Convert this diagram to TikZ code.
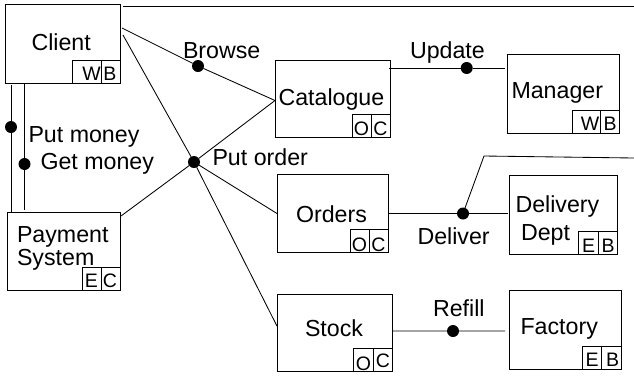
\documentclass[tikz,border=0pt]{standalone}
\usepackage{fontspec}
\setmainfont{Liberation Sans}
\newcommand{\bx}[6][boxframe]{\node[#1,minimum width={(#5)-(#3)},minimum height={(#6)-(#4)}] (#2) at ({((#3)+(#5))/2},{((#4)+(#6))/2}) {};}
\newcommand{\lbl}[4]{\node[lab] (#1) at (#2,#3) {#4};}
\newcommand{\slbl}[4]{\node[smalllab] (#1) at (#2,#3) {#4};}
\tikzset{
 boxframe/.style={draw=black,line width=0.85pt,inner sep=0pt,outer sep=0pt,fill=white},
 cell/.style={boxframe},
 lab/.style={anchor=base west,inner sep=0pt,outer sep=0pt,font=\fontsize{23.2pt}{24pt}\selectfont},
 smalllab/.style={anchor=base,inner sep=0pt,outer sep=0pt,font=\fontsize{19.5pt}{20pt}\selectfont},
 dot/.style={circle,fill=black,draw=none,minimum size=12pt,inner sep=0pt,outer sep=0pt},
 conn/.style={draw=black,line width=0.85pt}
}
\begin{document}
\begin{tikzpicture}[x=1pt,y=-1pt]
\useasboundingbox (0,0) rectangle (634,376);
% boxes
\bx{client}{5}{4.5}{120}{83}
\bx{catalogue}{275}{60.5}{390.5}{137}
\bx{manager}{507.5}{54.5}{619}{133}
\bx{payment}{7}{212}{120}{290.5}
\bx{orders}{277}{174}{388.5}{252}
\bx{delivery}{509.7}{175.5}{617}{254}
\bx{stock}{277}{294.7}{392.5}{371.5}
\bx{factory}{509.3}{290.7}{621}{369.5}
% cells
\bx[cell]{cw}{72.5}{60}{101}{83}
\bx[cell]{cb}{101}{60}{120}{83}
\bx[cell]{co}{352}{114}{371}{137}
\bx[cell]{cc}{371}{114}{390.5}{137}
\bx[cell]{mw}{572.5}{110.5}{600}{133}
\bx[cell]{mb}{600}{110.5}{619}{133}
\bx[cell]{pe}{82}{267}{101}{290.5}
\bx[cell]{pc}{101}{267}{120}{290.5}
\bx[cell]{oo}{350}{229.3}{369.5}{252}
\bx[cell]{oc}{369.5}{229.3}{388.5}{252}
\bx[cell]{de}{578.7}{231}{598}{254}
\bx[cell]{db}{598}{231}{617}{254}
\bx[cell]{so}{353.7}{348}{373.7}{371.5}
\bx[cell]{sc}{373.7}{348}{392.5}{371.5}
\bx[cell]{fe}{582.7}{346.3}{601.3}{369.5}
\bx[cell]{fb}{601.3}{346.3}{621}{369.5}
% dots
\node[dot] (dbrowse) at (198,66) {};
\node[dot] (dupdate) at (466.7,68) {};
\node[dot] (dorder) at (194,162) {};
\node[dot] (ddeliver) at (463,213.5) {};
\node[dot] (drefill) at (453,331) {};
\node[dot] (dput) at (11,127) {};
\node[dot] (dget) at (24.5,164) {};
\coordinate (topend) at (634,6);
\coordinate (branchbend) at (484,156);
\coordinate (branchend) at (634,158);
% connectors
\draw[conn] ([shift={(3,1.5)}]client.north east) -- (topend);
\draw[conn] ([shift={(2,-15.75)}]client.east) -- (dbrowse) -- ([shift={(0,1.75)}]catalogue.west);
\draw[conn] ([shift={(3,-8.75)}]client.east) -- (dorder) -- ([shift={(0,-7)}]stock.west);
\draw[conn] ([shift={(1,-35.25)}]payment.east) -- (dorder) -- ([shift={(0,1.75)}]catalogue.west);
\draw[conn] (dorder) -- ([shift={(0,0.5)}]orders.west);
\draw[conn] ([shift={(-1.5,-30.75)}]catalogue.east) -- (dupdate) -- ([shift={(-2.5,-25.75)}]manager.west);
\draw[conn] ([shift={(0.5,0.5)}]orders.east) -- (ddeliver) -- ([shift={(-2.2,-1.25)}]delivery.west);
\draw[conn] (ddeliver) -- (branchbend) -- (branchend);
\draw[conn] ([shift={(-0.5,-2.1)}]stock.east) -- (drefill) -- ([shift={(-4.3,0.9)}]factory.west);
\draw[conn] ([shift={(6,2)}]client.south west) -- (dput) -- ([shift={(4,0)}]payment.north west);
\draw[conn] ([shift={(19.5,0)}]client.south west) -- (dget) -- ([shift={(17.5,-2)}]payment.north west);
% main labels
\lbl{tclient}{31.5}{50}{Client}
\lbl{tbrowse}{183}{58}{Browse}
\lbl{tupdate}{410}{58}{Update}
\lbl{tcat}{278.5}{105}{Catalogue}
\lbl{tman}{511.5}{98}{Manager}
\lbl{tput}{28.5}{142.7}{Put money}
\lbl{tget}{40.5}{169}{Get money}
\lbl{torder}{212.5}{165.7}{Put order}
\lbl{tpay}{17}{242}{Payment}
\lbl{tsys}{17}{265.7}{System}
\lbl{tord}{296}{222}{Orders}
\lbl{tdel}{515.5}{212}{Delivery}
\lbl{tdept}{521}{240.7}{Dept}
\lbl{tdeliver}{417.5}{244.7}{Deliver}
\lbl{trefill}{433}{316}{Refill}
\lbl{tstock}{305}{336}{Stock}
\lbl{tfac}{520.5}{334.7}{Factory}
% cell labels
\slbl{lcw}{91.5}{80.7}{W}
\slbl{lcb}{110}{80.7}{B}
\slbl{lco}{361.5}{135}{O}
\slbl{lcc}{380.5}{135}{C}
\slbl{lmw}{590}{130.5}{W}
\slbl{lmb}{610}{130.5}{B}
\slbl{lpe}{91.5}{287.5}{E}
\slbl{lpc}{110}{287.5}{C}
\slbl{loo}{359.5}{251}{O}
\slbl{loc}{378.5}{251}{C}
\slbl{lde}{588.5}{252}{E}
\slbl{ldb}{608}{252}{B}
\slbl{lso}{363.5}{370}{O}
\slbl{lsc}{383}{367}{C}
\slbl{lfe}{592}{366}{E}
\slbl{lfb}{612.5}{366}{B}
\end{tikzpicture}
\end{document}
